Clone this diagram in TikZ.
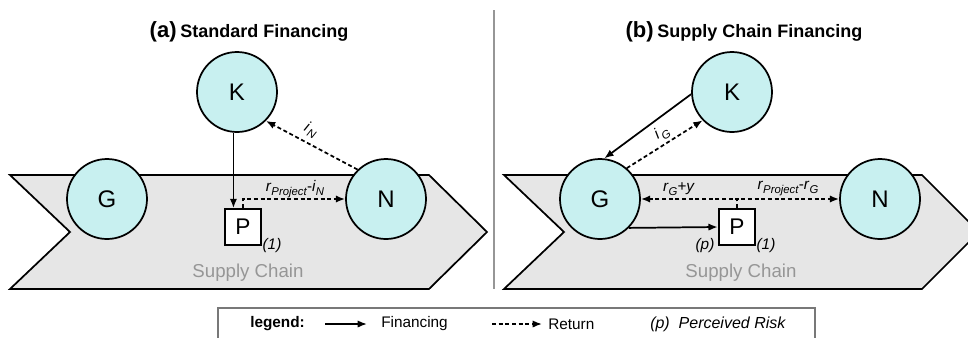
\documentclass[tikz,border=0pt]{standalone}
\usepackage{fontspec}
\setmainfont{Liberation Sans}
\usetikzlibrary{arrows.meta}
\definecolor{cyanfill}{RGB}{200,240,240}
\definecolor{chevgray}{RGB}{230,230,230}
\definecolor{scgray}{RGB}{150,150,150}
\definecolor{boxgray}{RGB}{120,120,120}
\newcommand{\lsub}[1]{\raisebox{-0.5ex}{\fontsize{8.5}{9}\selectfont #1}}
\tikzset{
  ent/.style={circle, draw, fill=cyanfill, minimum size=60pt, inner sep=0pt, line width=1.3pt, font=\fontsize{18}{20}\selectfont},
  pbox/.style={draw, fill=white, minimum width=27.5pt, minimum height=27pt, inner sep=0pt, line width=1.3pt, font=\fontsize{17}{20}\selectfont},
  fin/.style={line width=1.3pt, -{Latex[length=7pt,width=5.5pt]}},
  ret/.style={fin, dash pattern=on 3pt off 2pt},
  chev/.style={draw, fill=chevgray, line width=1.3pt, line join=miter},
  lab/.style={inner sep=0pt, font=\fontsize{11.5}{13}\selectfont},
  sc/.style={inner sep=0pt, text=scgray, font=\fontsize{14}{16}\selectfont},
  leg/.style={inner sep=0pt, anchor=west, font=\fontsize{11.5}{13}\selectfont},
}
\begin{document}
\begin{tikzpicture}[x=0.75pt,y=-0.75pt]
\clip (0,0) rectangle (968,337);
\fill[white] (0,0) rectangle (968,337);

% supply chain chevrons
\draw[chev] (10,175) -- (429,175) -- (487,232) -- (429,289) -- (10,289) -- (70,232) -- cycle;
\draw[chev] (504,175) -- (922,175) -- (979,232) -- (922,289) -- (504,289) -- (564,232) -- cycle;

% divider
\draw[scgray, line width=1pt] (494,10) -- (494,289);

% titles
\node[inner sep=0pt] (ta) at (249,32) {{\fontsize{16.5}{18}\selectfont\bfseries (a)} {\fontsize{13.5}{16}\selectfont\bfseries Standard Financing}};
\node[inner sep=0pt] (tb) at (744,32) {{\fontsize{16.5}{18}\selectfont\bfseries (b)} {\fontsize{13.5}{16}\selectfont\bfseries Supply Chain Financing}};

% panel (a)
\node[ent] (Ka) at (237,92) {K};
\node[ent] (Ga) at (107,199) {G};
\node[ent] (Na) at (386,199) {N};
\node[pbox] (Pa) at (243,227) {P};
\draw[fin] (Ka.265) -- (Ka.265 |- Pa.north);
\draw[ret] (Pa.north) |- (Na.west);
\draw[ret] (Na.134) -- (Ka.-45);
\node[lab] (la1) at (295,189) {\textit{r}\lsub{\textit{Project}}-\textit{i}\lsub{\textit{N}}};
\node[lab, rotate=-28] (la2) at (311,130) {\textit{i}\kern1pt\lsub{\textit{N}}};
\node[lab] (oa) at (272,246) {\textit{(1)}};
\node[sc] (sca) at (248,273) {Supply Chain};

% panel (b)
\node[ent] (Kb) at (732,92) {K};
\node[ent] (Gb) at (600,199) {G};
\node[ent] (Nb) at (880,199) {N};
\node[pbox] (Pb) at (737,227) {P};
\draw[fin] (Kb.183) -- (Gb.84);
\draw[ret] (Gb.49) -- (Kb.224);
\draw[fin] (Gb.-45) -- (Pb.west);
\draw[ret] (Pb.north) |- (Gb.east);
\draw[ret] (Pb.north) |- (Nb.west);
\node[lab] (lb1) at (679,189) {\textit{r}\lsub{\textit{G}}+\textit{y}};
\node[lab] (lb2) at (788,189) {\textit{r}\lsub{\textit{Project}}-\textit{r}\lsub{\textit{G}}};
\node[lab, rotate=32] (lb3) at (662,133) {\textit{i}\kern1pt\lsub{\textit{G}}};
\node[lab] (ob) at (766,246) {\textit{(1)}};
\node[lab] (pb) at (705,246) {\textit{(p)}};
\node[sc] (scb) at (741,273) {Supply Chain};

% legend
\draw[boxgray, line width=1.1pt] (218,308) rectangle (815,350);
\node[leg, font=\fontsize{11.5}{13}\selectfont\bfseries] (lg) at (250,324) {legend:};
\coordinate (f1) at (325,324);
\coordinate (f2) at (367,324);
\draw[fin] (f1) -- (f2);
\node[leg] (lf) at (381,324) {Financing};
\coordinate (r1) at (492,324);
\coordinate (r2) at (542,324);
\draw[ret] (r1) -- (r2);
\node[leg] (lr) at (548,324) {Return};
\node[leg, font=\fontsize{12}{14}\selectfont\itshape] (lp) at (650,324) {(p)\ \ Perceived Risk};
\end{tikzpicture}
\end{document}
